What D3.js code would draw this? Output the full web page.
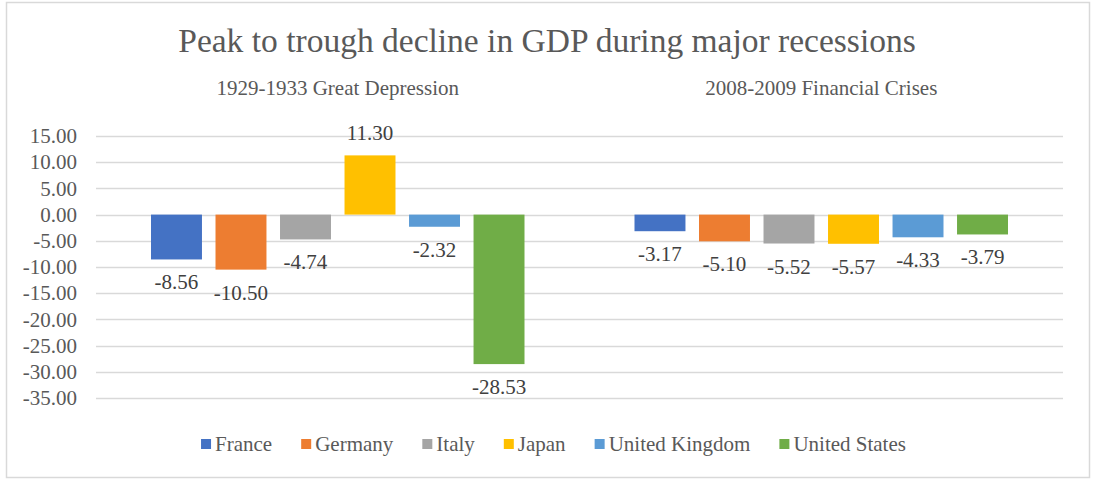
<!DOCTYPE html>
<html>
<head>
<meta charset="utf-8">
<script src="https://cdn.jsdelivr.net/npm/d3@7"></script>
<style>
  body { margin: 0; background: #fff; }
  text { font-family: "Liberation Serif", "Times New Roman", serif; }
</style>
</head>
<body>
<script>
const width = 1093;
const height = 480;

const periods = ['1929-1933 Great Depression', '2008-2009 Financial Crises'];
const countries = ['France', 'Germany', 'Italy', 'Japan', 'United Kingdom', 'United States'];
const greatDepression = [-8.56, -10.50, -4.74, 11.30, -2.32, -28.53];
const financialCrisis = [-3.17, -5.10, -5.52, -5.57, -4.33, -3.79];
const yTicks = [15, 10, 5, 0, -5, -10, -15, -20, -25, -30, -35];
const colors = ['#4472C4', '#ED7D31', '#A5A5A5', '#FFC000', '#5B9BD5', '#70AD47'];

const series = [greatDepression, financialCrisis];
const fmt = v => d3.format('.2f')(v).replace('\u2212', '-');

const svg = d3.select('body')
  .append('svg')
  .attr('width', width)
  .attr('height', height);

// chart frame
svg.append('rect')
  .attr('x', 6.5)
  .attr('y', 2.5)
  .attr('width', 1083)
  .attr('height', 475)
  .attr('fill', '#fff')
  .attr('stroke', '#D9D9D9')
  .attr('stroke-width', 1.5);

const x0 = d3.scaleBand()
  .domain(periods)
  .range([96, 1063]);

const x1 = d3.scaleBand()
  .domain(countries)
  .range([55, x0.bandwidth() - 55])
  .paddingInner(0.21);

const y = d3.scaleLinear()
  .domain([-35, 15])
  .range([398, 136]);

const color = d3.scaleOrdinal().domain(countries).range(colors);

// gridlines
svg.append('g')
  .selectAll('line')
  .data(yTicks)
  .join('line')
  .attr('x1', 96)
  .attr('x2', 1063)
  .attr('y1', d => Math.round(y(d)) + 0.5)
  .attr('y2', d => Math.round(y(d)) + 0.5)
  .attr('stroke', '#D9D9D9')
  .attr('stroke-width', 1.5);

// y axis labels
const yAxis = d3.axisLeft(y)
  .tickValues(yTicks)
  .tickFormat(fmt)
  .tickSize(0)
  .tickPadding(0);

svg.append('g')
  .attr('transform', 'translate(77,0)')
  .call(yAxis)
  .attr('font-family', '"Liberation Serif", serif')
  .attr('font-size', 21)
  .call(g => g.select('.domain').remove())
  .call(g => g.selectAll('text').attr('fill', '#595959'));

// title
svg.append('text')
  .attr('x', 547)
  .attr('y', 52)
  .attr('text-anchor', 'middle')
  .attr('fill', '#595959')
  .style('font-size', '33.5px')
  .text('Peak to trough decline in GDP during major recessions');

// period labels on top
svg.append('g')
  .selectAll('text')
  .data(periods)
  .join('text')
  .attr('x', d => x0(d) + x0.bandwidth() / 2)
  .attr('y', 95)
  .attr('text-anchor', 'middle')
  .attr('fill', '#595959')
  .style('font-size', '21px')
  .text(d => d);

// bars
const groups = svg.append('g')
  .selectAll('g')
  .data(periods)
  .join('g')
  .attr('transform', d => `translate(${x0(d)},0)`);

groups.selectAll('rect')
  .data((d, i) => countries.map((c, j) => ({ c, v: series[i][j] })))
  .join('rect')
  .attr('x', d => x1(d.c))
  .attr('width', x1.bandwidth())
  .attr('y', d => y(Math.max(0, d.v)))
  .attr('height', d => Math.abs(y(d.v) - y(0)))
  .attr('fill', d => color(d.c));

groups.selectAll('text')
  .data((d, i) => countries.map((c, j) => ({ c, v: series[i][j] })))
  .join('text')
  .attr('x', d => x1(d.c) + x1.bandwidth() / 2)
  .attr('y', d => d.v >= 0 ? y(d.v) - 15.5 : y(d.v) + 30)
  .attr('text-anchor', 'middle')
  .attr('fill', '#404040')
  .style('font-size', '21px')
  .text(d => fmt(d.v));

// legend
const legend = svg.append('g');
const items = legend.selectAll('g')
  .data(countries)
  .join('g');

items.append('rect')
  .attr('width', 10)
  .attr('height', 10)
  .attr('y', 439)
  .attr('fill', d => color(d));

items.append('text')
  .attr('x', 14)
  .attr('y', 451)
  .attr('fill', '#595959')
  .style('font-size', '21px')
  .text(d => d);

const gap = 29;
const widths = [];
items.each(function () {
  widths.push(14 + this.querySelector('text').getComputedTextLength());
});
const total = d3.sum(widths) + gap * (widths.length - 1);
const start = 553.5 - total / 2;
let offset = 0;
items.attr('transform', (d, i) => {
  const t = `translate(${start + offset},0)`;
  offset += widths[i] + gap;
  return t;
});
</script>
</body>
</html>
